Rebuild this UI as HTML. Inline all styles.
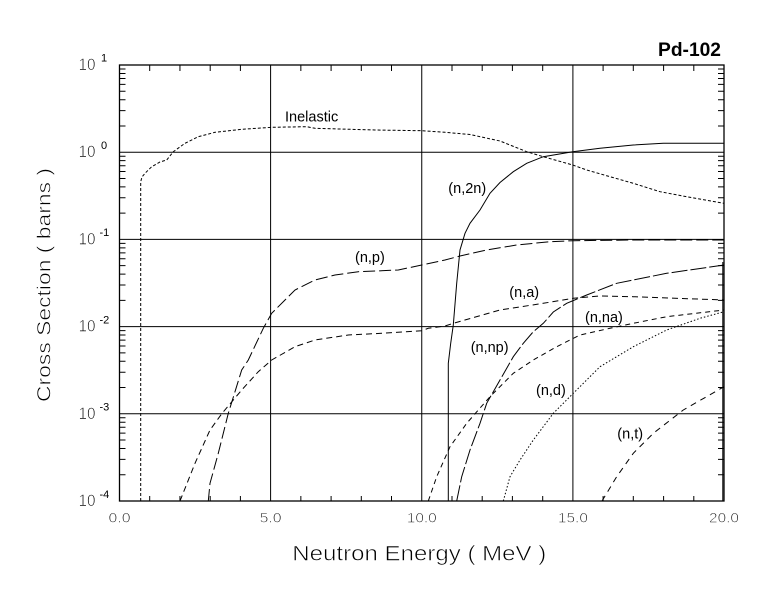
<!DOCTYPE html>
<html><head><meta charset="utf-8"><style>
html,body{margin:0;padding:0;background:#fff;}
svg{display:block;}
text{font-family:"Liberation Sans",Arial,sans-serif;fill:#000;}
.thin{stroke:#fff;stroke-width:0.6;}
</style></head><body>
<svg width="780" height="590" viewBox="0 0 780 590" xmlns="http://www.w3.org/2000/svg">
<rect width="780" height="590" fill="#fff"/>
<!-- grid -->
<g stroke="#000" stroke-width="1" fill="none">
<path d="M119.5 152.2H724M119.5 239.4H724M119.5 326.6H724M119.5 413.8H724"/>
<path d="M270.6 65V501M421.75 65V501M572.9 65V501"/>
<!-- left minor ticks -->
<path d="M119.5 125.95h6M119.5 110.6h6M119.5 99.7h6M119.5 91.25h6M119.5 84.34h6M119.5 78.51h6M119.5 73.45h6M119.5 68.99h6
M119.5 213.15h6M119.5 197.8h6M119.5 186.9h6M119.5 178.45h6M119.5 171.54h6M119.5 165.71h6M119.5 160.65h6M119.5 156.19h6
M119.5 300.35h6M119.5 285h6M119.5 274.1h6M119.5 265.65h6M119.5 258.74h6M119.5 252.91h6M119.5 247.85h6M119.5 243.39h6
M119.5 387.55h6M119.5 372.2h6M119.5 361.3h6M119.5 352.85h6M119.5 345.94h6M119.5 340.11h6M119.5 335.05h6M119.5 330.59h6
M119.5 474.75h6M119.5 459.4h6M119.5 448.5h6M119.5 440.05h6M119.5 433.14h6M119.5 427.31h6M119.5 422.25h6M119.5 417.79h6"/>
<!-- right minor ticks -->
<path d="M724 125.95h-6M724 110.6h-6M724 99.7h-6M724 91.25h-6M724 84.34h-6M724 78.51h-6M724 73.45h-6M724 68.99h-6
M724 213.15h-6M724 197.8h-6M724 186.9h-6M724 178.45h-6M724 171.54h-6M724 165.71h-6M724 160.65h-6M724 156.19h-6
M724 300.35h-6M724 285h-6M724 274.1h-6M724 265.65h-6M724 258.74h-6M724 252.91h-6M724 247.85h-6M724 243.39h-6
M724 387.55h-6M724 372.2h-6M724 361.3h-6M724 352.85h-6M724 345.94h-6M724 340.11h-6M724 335.05h-6M724 330.59h-6
M724 474.75h-6M724 459.4h-6M724 448.5h-6M724 440.05h-6M724 433.14h-6M724 427.31h-6M724 422.25h-6M724 417.79h-6"/>
<!-- top/bottom minor ticks -->
<path d="M149.7 65v6M179.95 65v6M210.2 65v6M240.4 65v6M300.85 65v6M331.1 65v6M361.3 65v6M391.5 65v6M452 65v6M482.2 65v6M512.4 65v6M542.7 65v6M603.1 65v6M633.3 65v6M663.6 65v6M693.8 65v6"/>
<path d="M149.7 501v-5M179.95 501v-5M210.2 501v-5M240.4 501v-5M300.85 501v-5M331.1 501v-5M361.3 501v-5M391.5 501v-5M452 501v-5M482.2 501v-5M512.4 501v-5M542.7 501v-5M603.1 501v-5M633.3 501v-5M663.6 501v-5M693.8 501v-5"/>
</g>
<rect x="119.5" y="65" width="604.5" height="436" fill="none" stroke="#000" stroke-width="1.3"/>
<path d="M722.8 262V501" stroke="#000" stroke-width="1"/>

<!-- curves -->
<g fill="none" stroke="#000" stroke-width="1">
<polyline stroke-dasharray="3 2" points="140.7,501 140.7,181.7 142,177 145,173.3 151.7,166.7 160,162 166.7,160 173.3,151.7 185,143.3 198.3,136.7 215,132.3 241.7,129.3 271.7,127.3 306.7,126.7 315,128.3 375,130 421.7,130.7 445,132.3 470,134.5 500,141 526.7,151.7 543.3,156.7 572.7,165 586.7,170 610,176.7 633.3,183.3 660,191.7 686.7,196.7 724,203.3"/>
<polyline points="448.3,501 448.3,363.3 450.7,343.3 453.3,325 456.7,283.3 460,250 465,233.3 470,223.3 480,210 490,193.3 500,182.5 513.3,171.7 526.7,163.3 543.3,156.7 572.7,151.7 600,148.3 633.3,145 663.3,143.3 700,143.3 724,143.3"/>
<polyline stroke-dasharray="12 4" points="208.3,501 210,483.3 218.3,453.3 228.3,413.3 241.7,370 248.3,360 263.3,328.3 271.7,313.3 285,300 295,290 315,280 335,275 358.3,271.7 398.3,270 421.7,265 445,260 460,256 486.7,250 516.7,245 550,241.7 573.3,240.7 633.3,240 724,240"/>
<polyline stroke-dasharray="6 4" points="180,501 195,463.3 210,430 221.7,413.8 241.7,390 258.3,371.7 271.7,360 295,346.7 315,340 348.3,335 381.7,333.3 421.7,330.7 428.3,328.3 445,326 453.3,323.3 500,310 543.3,303.3 573.3,298.3 600,296 633.3,296.7 724,300"/>
<polyline stroke-dasharray="5 4" points="428.3,501 436.7,476.7 450,446.7 466.7,423.3 490,396.7 513.3,373.3 533.3,360 556.7,346.7 580,335 610,328.3 633.3,323.3 666.7,316.7 724,310"/>
<polyline stroke-dasharray="16 3" points="456.7,501 461.7,476.7 470,450 480,423.3 486.7,403.3 500,380 513.3,356.7 523.3,343.3 533.3,331.7 543.3,323.3 553.3,312 566.7,303.3 586.7,295 616.7,283.3 666.7,273.3 724,265"/>
<polyline stroke-dasharray="1.5 2" points="503.3,501 510,476.7 520,460 533.3,440 553.3,413.3 573.3,393.3 600,366.7 633.3,346.7 666.7,330 700,318.3 724,311.7"/>
<polyline stroke-dasharray="6 5" points="602,501 616.7,476.7 633.3,453.3 653.3,433.3 683.3,410 724,386.7"/>
</g>

<!-- curve labels -->
<g font-size="14.5">
<text x="285" y="121.7">Inelastic</text>
<text x="448.3" y="193">(n,2n)</text>
<text x="355" y="262">(n,p)</text>
<text x="509.3" y="297">(n,a)</text>
<text x="585" y="322">(n,na)</text>
<text x="470.7" y="352">(n,np)</text>
<text x="536" y="395">(n,d)</text>
<text x="617.3" y="438.5">(n,t)</text>
</g>

<!-- title -->
<text x="721" y="56" font-size="19" font-weight="bold" text-anchor="end" textLength="63" lengthAdjust="spacingAndGlyphs">Pd-102</text>

<!-- x tick labels -->
<g font-size="14" text-anchor="middle" class="thin">
<text x="119.5" y="522.7" textLength="22" lengthAdjust="spacingAndGlyphs">0.0</text>
<text x="270.6" y="522.7" textLength="22" lengthAdjust="spacingAndGlyphs">5.0</text>
<text x="421.75" y="522.7" textLength="30" lengthAdjust="spacingAndGlyphs">10.0</text>
<text x="572.9" y="522.7" textLength="30" lengthAdjust="spacingAndGlyphs">15.0</text>
<text x="724" y="522.7" textLength="30" lengthAdjust="spacingAndGlyphs">20.0</text>
</g>

<!-- y tick labels -->
<g font-size="16.5" class="thin">
<text x="78.5" y="70" textLength="17" lengthAdjust="spacingAndGlyphs">10</text>
<text x="78.5" y="157.2" textLength="17" lengthAdjust="spacingAndGlyphs">10</text>
<text x="78.5" y="244.4" textLength="17" lengthAdjust="spacingAndGlyphs">10</text>
<text x="78.5" y="331.6" textLength="17" lengthAdjust="spacingAndGlyphs">10</text>
<text x="78.5" y="418.8" textLength="17" lengthAdjust="spacingAndGlyphs">10</text>
<text x="78.5" y="506" textLength="17" lengthAdjust="spacingAndGlyphs">10</text>
</g>
<g font-size="11">
<text x="101" y="61.7">1</text>
<text x="101" y="149">0</text>
<text x="99.5" y="236.2">-1</text>
<text x="99.5" y="323.4">-2</text>
<text x="99.5" y="410.6">-3</text>
<text x="99.5" y="497.8">-4</text>
</g>

<!-- axis titles -->
<text class="thin" x="292.3" y="560.7" font-size="21" textLength="254" lengthAdjust="spacingAndGlyphs">Neutron Energy ( MeV )</text>
<text class="thin" transform="translate(50.5,402) rotate(-90)" font-size="19.5" textLength="234" lengthAdjust="spacingAndGlyphs">Cross Section ( barns )</text>
</svg>
</body></html>
